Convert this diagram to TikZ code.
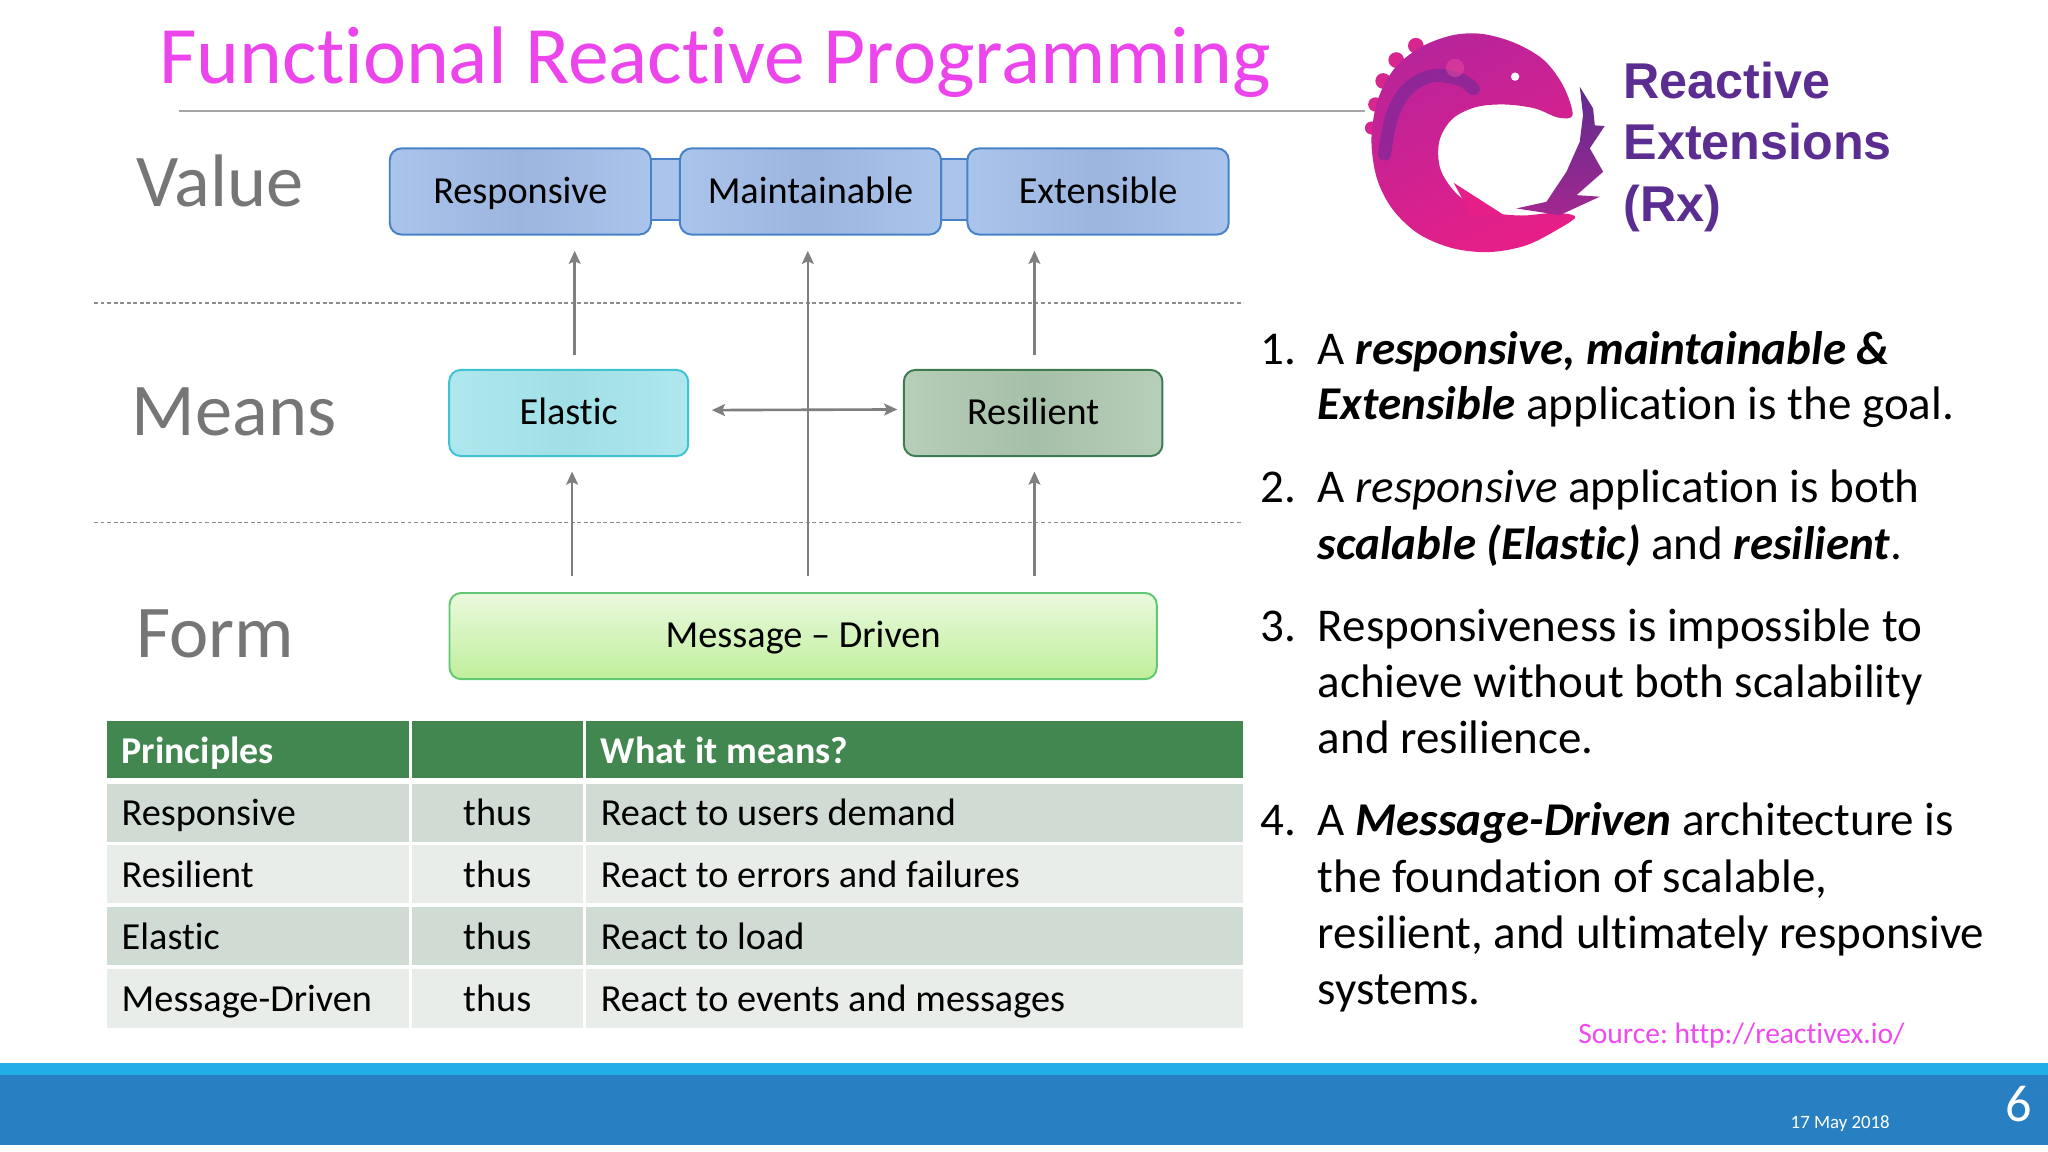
\documentclass[tikz,border=0pt]{standalone}
\usepackage{fontspec}
\setmainfont{Carlito}[Ligatures={NoCommon}]
\newfontfamily\logofont{Liberation Sans}
\usetikzlibrary{arrows.meta,calc}
\frenchspacing
\definecolor{titlemag}{HTML}{EC45EC}
\definecolor{srcmag}{HTML}{EE4AEE}
\definecolor{lblgray}{HTML}{767676}
\definecolor{rulegray}{HTML}{A6A6A6}
\definecolor{dashgray}{HTML}{8C8C8C}
\definecolor{arrgray}{HTML}{7F7F7F}
\definecolor{vfillA}{HTML}{ABC4EB}
\definecolor{vfillB}{HTML}{9BB5DF}
\definecolor{vline}{HTML}{4682C8}
\definecolor{efillA}{HTML}{AFE7EE}
\definecolor{efillB}{HTML}{A0DFE6}
\definecolor{eline}{HTML}{3FC3D3}
\definecolor{rfillA}{HTML}{B7CEB9}
\definecolor{rfillB}{HTML}{A6BFA8}
\definecolor{rline}{HTML}{3D7C52}
\definecolor{mfillA}{HTML}{EAF9DE}
\definecolor{mfillB}{HTML}{BFEF9B}
\definecolor{mline}{HTML}{62C872}
\definecolor{hdrgreen}{HTML}{41874F}
\definecolor{rowA}{HTML}{CFDBD3}
\definecolor{rowB}{HTML}{E8EDEA}
\definecolor{bandcyan}{HTML}{21ADE5}
\definecolor{bandblue}{HTML}{2880C3}
\definecolor{rxpurple}{HTML}{5C2D91}
\definecolor{rxpink}{HTML}{E61F88}
\definecolor{rxmag}{HTML}{B8249A}
\definecolor{rxfinA}{HTML}{5E2C8F}
\definecolor{rxfinB}{HTML}{A2288F}
\definecolor{rxstripe}{HTML}{6A2A98}
\definecolor{rxbump}{HTML}{D8268F}
\begin{document}
\begin{tikzpicture}[x=1pt,y=-1pt,
  txt/.style={anchor=base west, inner sep=0pt, outer sep=0pt},
  lbl/.style={txt, text=lblgray, font=\fontsize{57}{64}\selectfont},
  boxbase/.style={draw, line width=1.5pt, rounded corners=9pt, inner sep=0pt,
     text height=20pt, text depth=2pt, font=\fontsize{29.3}{35}\selectfont, text=black},
  vbox/.style={boxbase, draw=vline, left color=vfillA, right color=vfillA, middle color=vfillB,
     minimum width=200pt, minimum height=66pt},
  ebox/.style={boxbase, draw=eline, left color=efillA, right color=efillA, middle color=efillB},
  rbox/.style={boxbase, draw=rline, left color=rfillA, right color=rfillA, middle color=rfillB},
  mbox/.style={boxbase, draw=mline, top color=mfillA, bottom color=mfillB},
  arr/.style={draw=arrgray, line width=2pt, -{Stealth[length=10pt,width=9pt,inset=2pt]}},
  darr/.style={draw=arrgray, line width=2pt, {Stealth[length=10pt,width=9pt,inset=2pt]}-{Stealth[length=10pt,width=9pt,inset=2pt]}},
  sep/.style={draw=dashgray, line width=1.2pt, dash pattern=on 3pt off 2pt},
  rt/.style={txt, font=\fontsize{36}{43}\selectfont, text=black},
  tb/.style={txt, font=\fontsize{29.3}{35}\selectfont, text=black},
  th/.style={txt, font=\fontsize{29}{35}\selectfont\bfseries, text=white},
  rx/.style={txt, font=\logofont\bfseries\fontsize{38.5}{46}\selectfont, text=rxpurple}
]
\useasboundingbox (0,0) rectangle (1568,882);
\fill[white] (0,0) rectangle (1568,882);

% ---------- title ----------
\node[txt, text=titlemag, font=\fontsize{62.5}{70}\selectfont] (title) at (122,64) {Functional Reactive Programming};
\draw[rulegray, line width=1.2pt] (137,85) -- (1045,85);

% ---------- row labels ----------
\node[lbl] (lvalue) at (104.5,158) {Value};
\node[lbl] (lmeans) at (101,333.5) {Means};
\node[lbl] (lform) at (104.5,503.5) {Form};

% ---------- separators ----------
\draw[sep] (72,232) -- (952,232);
\draw[sep] (72,400) -- (952,400);

% ---------- value boxes ----------
\filldraw[fill=vfillA, draw=vline, line width=1.5pt] (490,122) rectangle (530,168.5);
\filldraw[fill=vfillA, draw=vline, line width=1.5pt] (712,122) rectangle (750,168.5);
\node[vbox] (resp) at (398.4,146.6) {Responsive};
\node[vbox] (maint) at (620.5,146.6) {Maintainable};
\node[vbox] (ext) at (840.7,146.6) {Extensible};

% ---------- means boxes ----------
\node[ebox, minimum width=183pt, minimum height=66pt] (elastic) at (435.4,316.2) {Elastic};
\node[rbox, minimum width=198pt, minimum height=66pt] (resil) at (791,316.2) {Resilient};

% ---------- form box ----------
\node[mbox, minimum width=541.5pt, minimum height=66pt] (msg) at (614.9,487) {Message -- Driven};

% ---------- arrows ----------
\coordinate (aR1) at (440,271.8);   \coordinate (aR2) at (440,192);
\coordinate (aM1) at (618.5,441);   \coordinate (aM2) at (618.5,192);
\coordinate (aX1) at (792,271.8);   \coordinate (aX2) at (792,192);
\coordinate (bE1) at (438,441);     \coordinate (bE2) at (438,361);
\coordinate (bR1) at (792,441);     \coordinate (bR2) at (792,361);
\coordinate (hL) at (545,314);      \coordinate (hR) at (687,313.5);
\draw[arr] (aR1) -- (aR2);
\draw[arr] (aM1) -- (aM2);
\draw[arr] (aX1) -- (aX2);
\draw[arr] (bE1) -- (bE2);
\draw[arr] (bR1) -- (bR2);
\draw[darr] (hL) -- (hR);

% ---------- table ----------
\fill[hdrgreen] (81.7,552) rectangle (313,595.5);
\fill[hdrgreen] (315.2,552) rectangle (446.6,595.5);
\fill[hdrgreen] (448.4,552) rectangle (952,595.5);
\foreach \ya/\yb/\c in {600.5/644.5/rowA, 647.3/691.7/rowB, 694.5/739.2/rowA, 742/787/rowB}{
  \fill[\c] (81.7,\ya) rectangle (313,\yb);
  \fill[\c] (315.2,\ya) rectangle (446.6,\yb);
  \fill[\c] (448.4,\ya) rectangle (952,\yb);
}
\node[th] (h1) at (93.2,584.4) {Principles};
\node[th] (h3) at (460,584.4) {What it means?};
\node[tb] (c11) at (93.2,632) {Responsive};
\node[tb, anchor=base] (c12) at (380.7,632) {thus};
\node[tb] (c13) at (460,632) {React to users demand};
\node[tb] (c21) at (93.2,679.5) {Resilient};
\node[tb, anchor=base] (c22) at (380.7,679.5) {thus};
\node[tb] (c23) at (460,679.5) {React to errors and failures};
\node[tb] (c31) at (93.2,727) {Elastic};
\node[tb, anchor=base] (c32) at (380.7,727) {thus};
\node[tb] (c33) at (460,727) {React to load};
\node[tb] (c41) at (93.2,774.5) {Message-Driven};
\node[tb, anchor=base] (c42) at (380.7,774.5) {thus};
\node[tb] (c43) at (460,774.5) {React to events and messages};

% ---------- right list ----------
\node[rt] (n1) at (965,279) {1.};
\node[rt] (l1a) at (1009,279) {A \textbf{\textit{responsive, maintainable \&}}};
\node[rt] (l1b) at (1009,321) {\textbf{\textit{Extensible}} application is the goal.};
\node[rt] (n2) at (965,385) {2.};
\node[rt] (l2a) at (1009,385) {A \textit{responsive} application is both};
\node[rt] (l2b) at (1009,428) {\textbf{\textit{scalable (Elastic)}} and \textbf{\textit{resilient}}.};
\node[rt] (n3) at (965,491) {3.};
\node[rt] (l3a) at (1009,491) {Responsiveness is impossible to};
\node[rt] (l3b) at (1009,534) {achieve without both scalability};
\node[rt] (l3c) at (1009,577) {and resilience.};
\node[rt] (n4) at (965,640) {4.};
\node[rt] (l4a) at (1009,640) {A \textbf{\textit{Message-Driven}} architecture is};
\node[rt] (l4b) at (1009,683) {the foundation of scalable,};
\node[rt] (l4c) at (1009,726) {resilient, and ultimately responsive};
\node[rt] (l4d) at (1009,769) {systems.};

\node[txt, text=srcmag, font=\fontsize{22.6}{27}\selectfont] (src) at (1208.4,798.8) {Source: http://reactivex.io/};

% ---------- footer ----------
\fill[bandcyan] (0,814) rectangle (1568,823);
\fill[bandblue] (0,823) rectangle (1568,876.6);
\node[txt, text=white, font=\fontsize{14.4}{17}\selectfont] (date) at (1371,863.8) {17 May 2018};
\node[txt, text=white, font=\fontsize{40}{46}\selectfont] (page) at (1535.5,859) {6};

% ---------- logo ----------
\foreach \cx/\cy/\r in {1084/35/6, 1069/46/6, 1059/62/6, 1053/80/5.5, 1050/98/5}{
  \fill[rxbump] (\cx,\cy) circle[radius=\r];
}
\shade[top color=rxmag, bottom color=rxpink, shading angle=25]
  plot[smooth cycle, tension=0.55] coordinates {
  (1204,88) (1197,66) (1182,46) (1160,33) (1135,26) (1112,27) (1088,36) (1068,52)
  (1055,76) (1050,106) (1054,136) (1066,160) (1086,179) (1112,190) (1140,193)
  (1168,188) (1192,176) (1206,166) (1190,163) (1165,165) (1140,162) (1117,150)
  (1103,130) (1102,108) (1112,91) (1130,82) (1152,80) (1175,83) (1193,90)};
\draw[rxstripe, line width=10pt, opacity=0.55, line cap=round]
  plot[smooth, tension=0.6] coordinates {(1060,118) (1066,88) (1078,68) (1097,58) (1118,61) (1128,68)};
\fill[rxpink!80!white, opacity=0.5] (1114,52) circle[radius=7];
\fill[rxpink] (1113,140) -- (1152,165) -- (1127,166) -- cycle;
\shade[top color=rxfinA, bottom color=rxfinB]
  (1209.5,66.4) -- (1219.7,83) -- (1221,96) -- (1228.6,96.5) -- (1217.2,113.6)
  -- (1227.4,131.5) -- (1207,149.4) -- (1224.8,150.6) -- (1194.2,164.7)
  -- (1161,159.6) -- (1184,154.5) -- (1199.3,131.5) -- (1209.5,108.5)
  -- (1212,88.1) -- cycle;
\fill[white] (1160,58.7) circle[radius=3.2];

\node[rx] (rx1) at (1243,75.5) {Reactive};
\node[rx] (rx2) at (1243,122) {Extensions};
\node[rx] (rx3) at (1243,169.5) {(Rx)};
\end{tikzpicture}
\end{document}
